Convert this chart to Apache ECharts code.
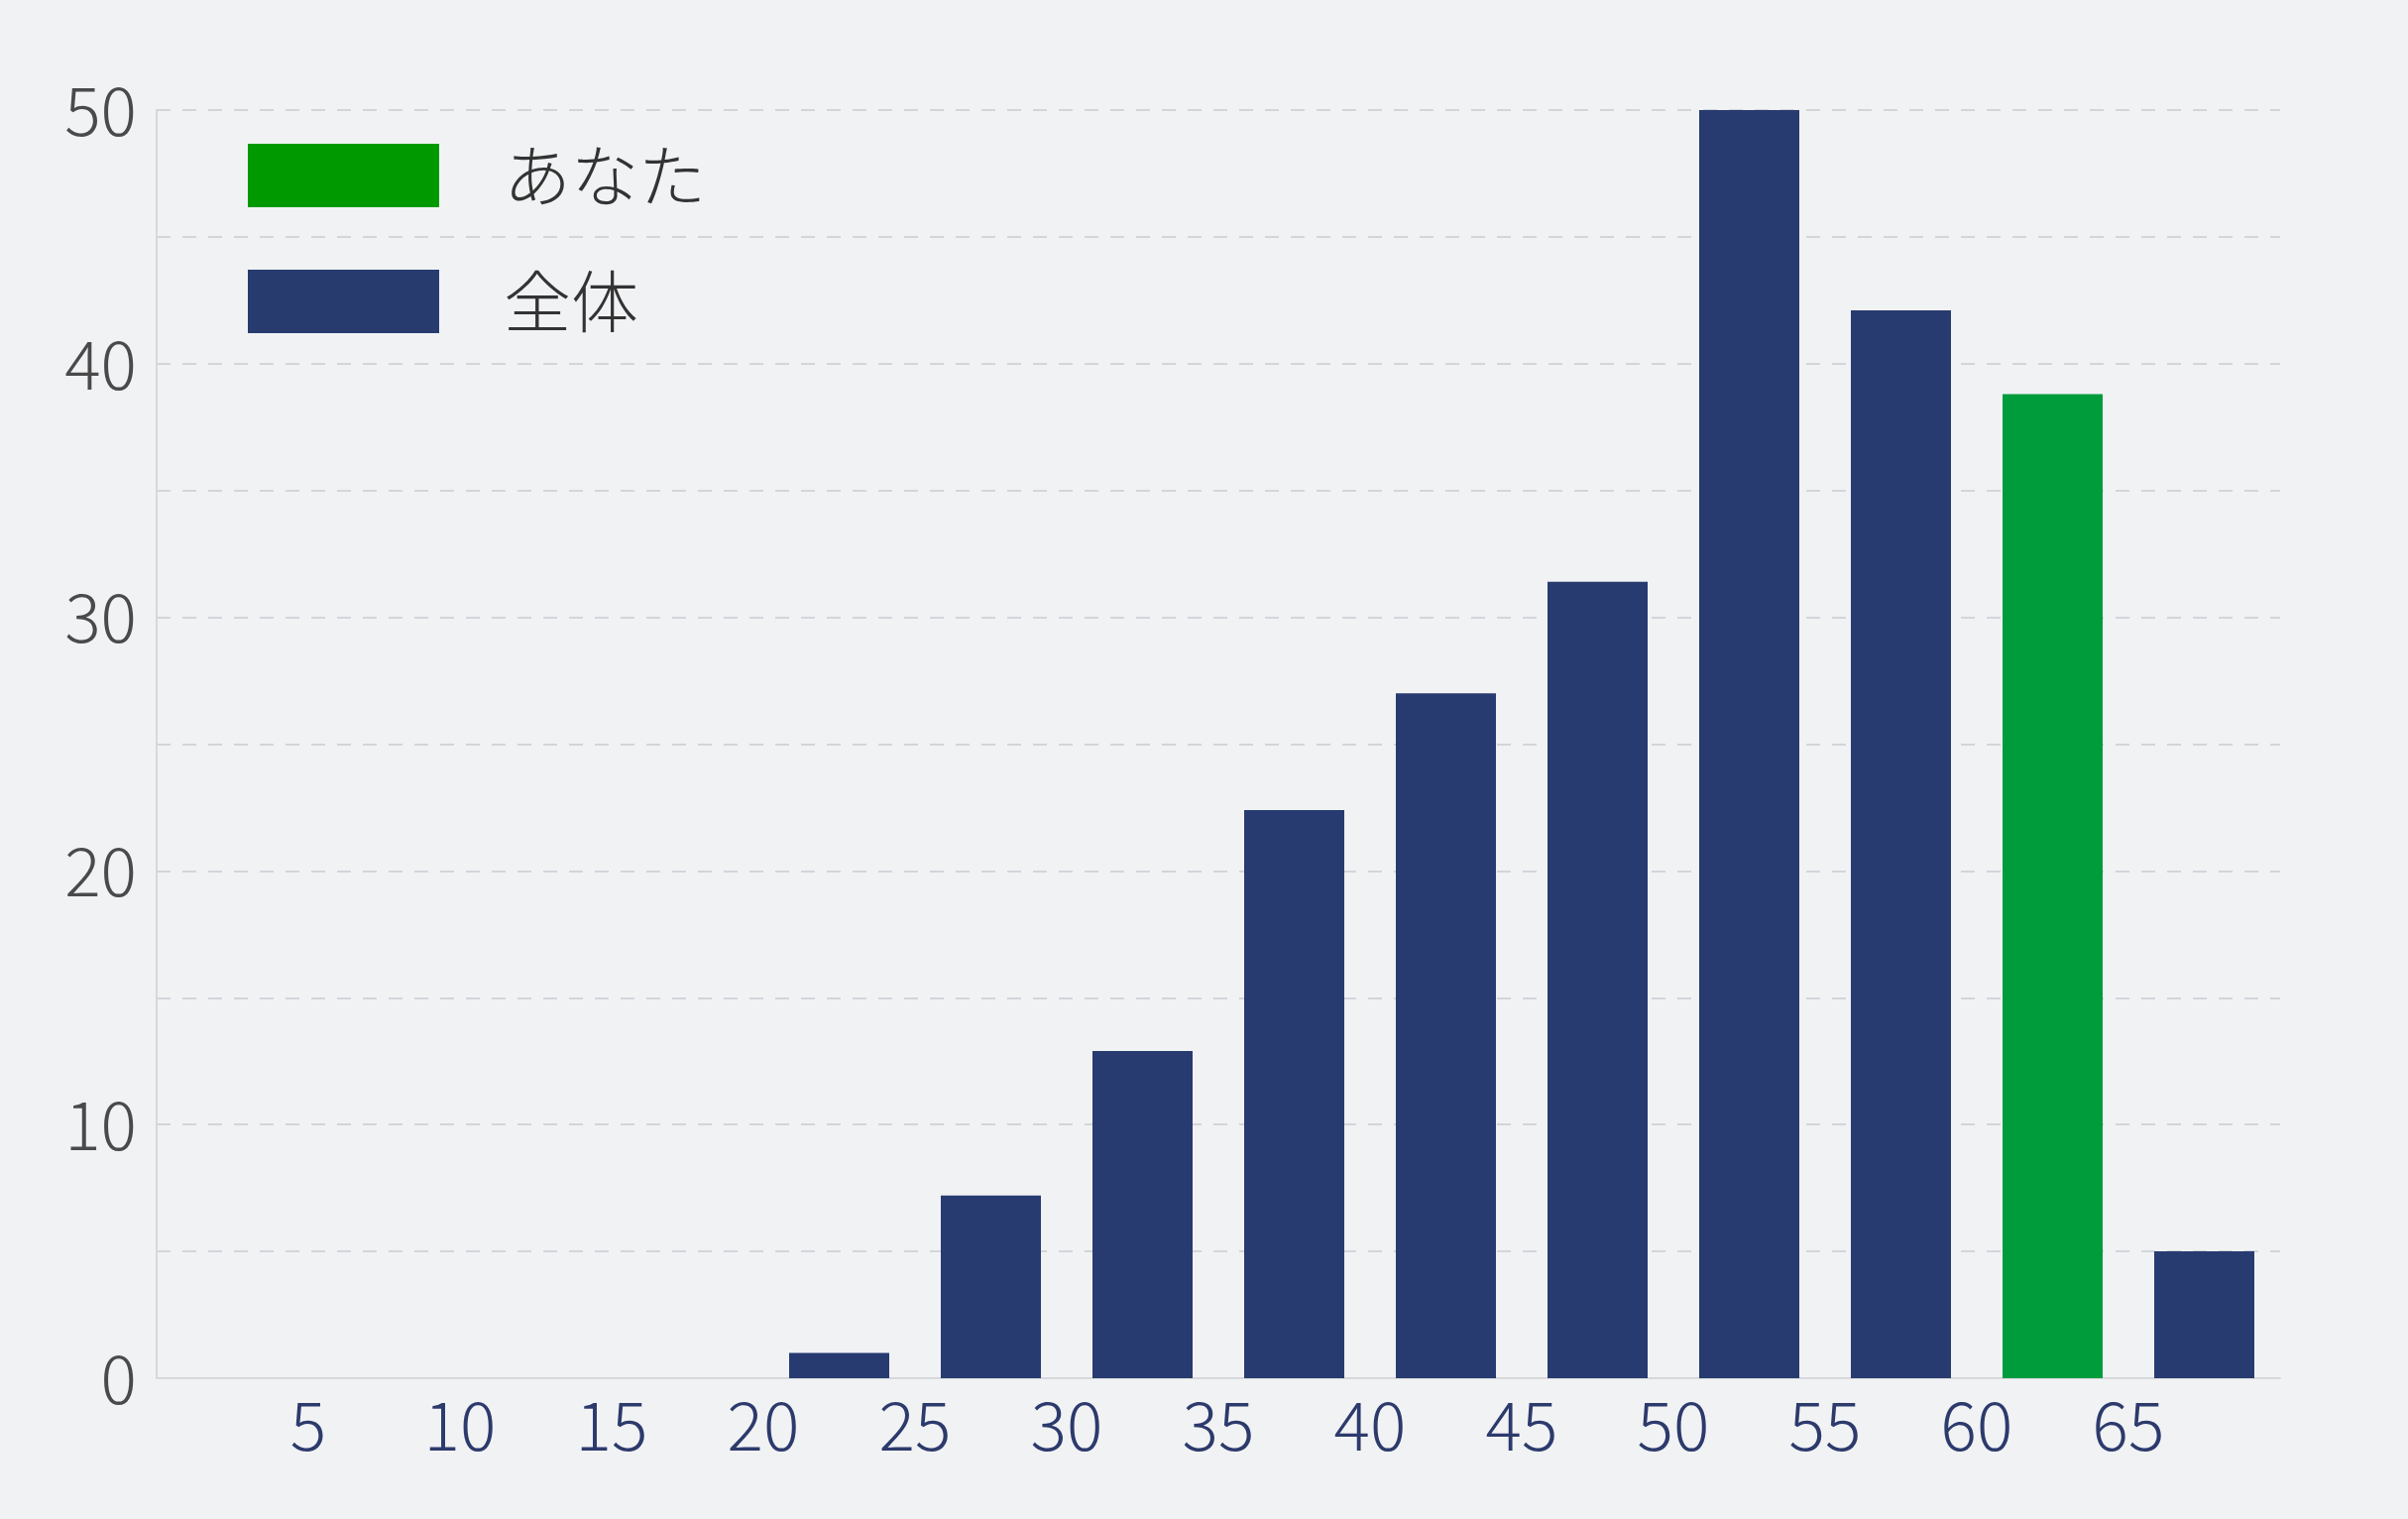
<!DOCTYPE html>
<html>
<head>
<meta charset="utf-8">
<script src="https://cdn.jsdelivr.net/npm/echarts@6/dist/echarts.min.js"></script>
<style>
html,body{margin:0;padding:0;background:#f1f2f4;}
#chart{width:2429px;height:1532px;}
</style>
</head>
<body>
<div id="chart"></div>
<script>
// bin start values (score ranges of width 5)
const binStarts = [20, 25, 30, 35, 40, 45, 50, 55, 65];
const allValues = [1, 7.2, 12.9, 22.4, 27, 31.4, 50, 42.1, 5];
const youBinStart = [60];
const youValues = [38.8];
const binWidth = 5;
const xTicks = [5, 10, 15, 20, 25, 30, 35, 40, 45, 50, 55, 60, 65];
const yTicks = [0, 10, 20, 30, 40, 50];
const seriesNames = ['あなた', '全体'];

const font = '"Noto Sans CJK JP", "Noto Sans", sans-serif';

const chart = echarts.init(document.getElementById('chart'));
chart.setOption({
  backgroundColor: '#f1f2f4',
  animation: false,
  textStyle: { fontFamily: font },
  grid: { left: 158, right: 129, top: 111, bottom: 142, containLabel: false },
  legend: {
    orient: 'vertical',
    left: 245,
    top: 138,
    itemWidth: 193,
    itemHeight: 64,
    itemGap: 59,
    icon: 'rect',
    data: [
      { name: seriesNames[0], itemStyle: { color: '#009a00' } },
      { name: seriesNames[1], itemStyle: { color: '#283b6e' } }
    ],
    textStyle: { fontSize: 68, color: '#333333', fontFamily: font, fontWeight: 300, padding: [0, 0, 0, 60] }
  },
  xAxis: {
    type: 'value',
    min: 0,
    max: 70,
    interval: 5,
    axisLine: { show: true, lineStyle: { color: '#d6d8db', width: 2 } },
    axisTick: { show: false },
    splitLine: { show: false },
    axisLabel: {
      margin: 13,
      fontSize: 68,
      fontWeight: 300,
      color: '#2c3a6c',
      fontFamily: font,
      formatter: v => (xTicks.indexOf(v) >= 0 ? String(v) : '')
    }
  },
  yAxis: {
    type: 'value',
    min: 0,
    max: 50,
    interval: 5,
    axisLine: { show: true, lineStyle: { color: '#d6d8db', width: 2 } },
    axisTick: { show: false },
    splitLine: { show: true, lineStyle: { color: '#d2d5da', width: 2, type: [14, 12] } },
    axisLabel: {
      margin: 20,
      fontSize: 68,
      fontWeight: 300,
      color: '#4a4a4a',
      fontFamily: font,
      formatter: v => (yTicks.indexOf(v) >= 0 ? String(v) : '')
    }
  },
  series: [
    {
      name: seriesNames[0],
      type: 'bar',
      barWidth: 101,
      barGap: '-100%',
      itemStyle: { color: '#009c3c' },
      data: youBinStart.map((s, i) => [s + binWidth / 2, youValues[i]])
    },
    {
      name: seriesNames[1],
      type: 'bar',
      barWidth: 101,
      barGap: '-100%',
      itemStyle: { color: '#283b70' },
      data: binStarts.map((s, i) => [s + binWidth / 2, allValues[i]])
    }
  ]
});
</script>
</body>
</html>
